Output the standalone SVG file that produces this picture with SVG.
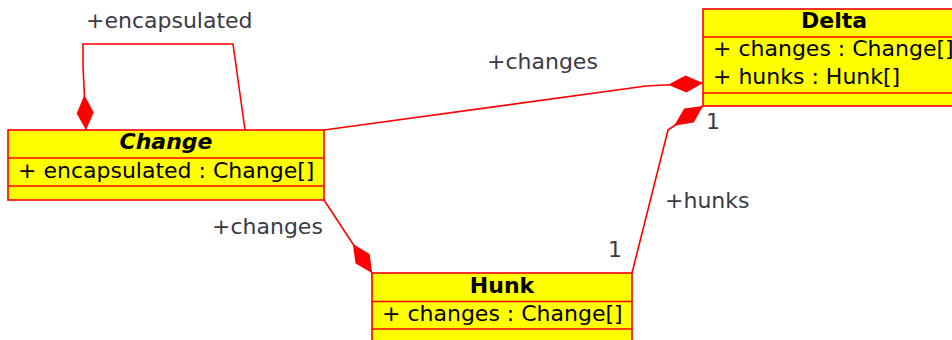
<svg xmlns="http://www.w3.org/2000/svg" width="952" height="340" viewBox="0 0 952 340">
<style>
.box{fill:#ffff00;stroke:#ff0000;stroke-width:1.6}
.sep{stroke:#ff0000;stroke-width:1.6}
.name{font-family:"DejaVu Sans",sans-serif;font-size:22px;font-weight:bold;fill:#000;text-anchor:middle}
.attr{font-family:"DejaVu Sans",sans-serif;font-size:22px;fill:#000}
.lbl{font-family:"DejaVu Sans",sans-serif;font-size:22px;fill:#3a3a44}
.conn{fill:none;stroke:#ff0000;stroke-width:1.6;marker-end:url(#diamond)}
</style>
<defs>
<marker id="diamond" markerUnits="userSpaceOnUse" markerWidth="40" markerHeight="20" viewBox="-38 -10 40 20" refX="0" refY="0" orient="auto" overflow="visible">
<path d="M0,0 L-17,-8.5 L-35,0 L-17,8.5 Z" fill="#ff0000"/>
</marker>
</defs>
<rect width="952" height="340" fill="#ffffff"/>
<g id="connectors">
<path class="conn" d="M245,130 L233,44 L83,44 L83,66 L86,130"/>
<path class="conn" d="M324,130 L646,86 L703,83"/>
<path class="conn" d="M632,273 L668,130 L703,106"/>
<path class="conn" d="M324,200 L372,273"/>
<text class="lbl" x="86" y="28">+encapsulated</text>
<text class="lbl" x="487" y="69">+changes</text>
<text class="lbl" x="212" y="234">+changes</text>
<text class="lbl" x="665" y="208">+hunks</text>
<text class="lbl" x="706" y="129">1</text>
<text class="lbl" x="608" y="257">1</text>
</g>
<g id="Change">
<rect class="box" x="8" y="130" width="316" height="70"/>
<line class="sep" x1="8" y1="158" x2="324" y2="158"/>
<line class="sep" x1="8" y1="186" x2="324" y2="186"/>
<text class="name" x="166" y="149" font-style="italic">Change</text>
<text class="attr" x="18" y="178">+ encapsulated : Change[]</text>
</g>
<g id="Delta">
<rect class="box" x="703" y="9" width="262" height="97"/>
<line class="sep" x1="703" y1="37" x2="965" y2="37"/>
<line class="sep" x1="703" y1="93" x2="965" y2="93"/>
<text class="name" x="834" y="28">Delta</text>
<text class="attr" x="713" y="56">+ changes : Change[]</text>
<text class="attr" x="713" y="84">+ hunks : Hunk[]</text>
</g>
<g id="Hunk">
<rect class="box" x="372" y="273" width="260" height="72"/>
<line class="sep" x1="372" y1="301.5" x2="632" y2="301.5"/>
<line class="sep" x1="372" y1="329" x2="632" y2="329"/>
<text class="name" x="502" y="293">Hunk</text>
<text class="attr" x="382" y="321">+ changes : Change[]</text>
</g>
</svg>
